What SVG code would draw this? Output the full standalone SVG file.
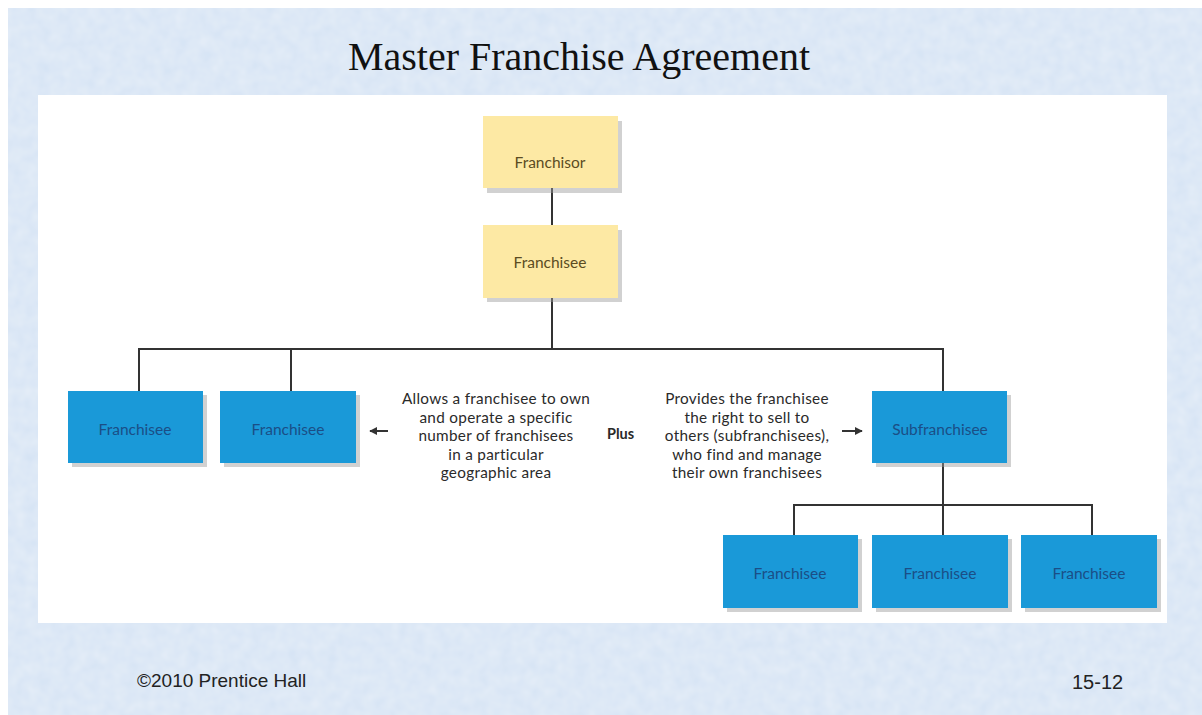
<svg xmlns="http://www.w3.org/2000/svg" width="1202" height="715" viewBox="0 0 1202 715">
<style>
.title{font-family:"Liberation Serif","Times New Roman",serif;font-size:40px;fill:#111;}
.foot{font-family:"Liberation Sans",Arial,sans-serif;font-size:19px;fill:#222;}
.yl{fill:#fde9a4;}
.bl{fill:#1a99d8;}
.sh{fill:#9a9a9a;opacity:0.45;}
.lt{font-family:Lato,"Noto Sans",sans-serif;font-size:15.5px;text-anchor:middle;}
.ty{fill:#5b4c22;}
.tb{fill:#1b4e86;}
.desc{font-family:Lato,"Noto Sans",sans-serif;font-size:15.3px;fill:#2a2a2a;text-anchor:middle;letter-spacing:0.3px;}
.plus{font-family:Lato,"Noto Sans",sans-serif;font-size:14.5px;font-weight:bold;fill:#2a2a2a;}
.ln{stroke:#333;stroke-width:2;fill:none;}
</style>
<defs>
<marker id="ah" viewBox="0 0 10 10" refX="9" refY="5" markerWidth="8" markerHeight="8" markerUnits="userSpaceOnUse" orient="auto">
<path d="M0,0 L10,5 L0,10 z" fill="#333"/>
</marker>
<filter id="tex" x="0" y="0" width="100%" height="100%">
<feTurbulence type="fractalNoise" baseFrequency="0.08" numOctaves="2" seed="3" result="n"/>
<feColorMatrix in="n" type="matrix" values="0 0 0 0 1  0 0 0 0 1  0 0 0 0 1  0 0 0 0.35 0" result="w"/>
<feComposite in="w" in2="SourceGraphic" operator="over"/>
</filter>
</defs>
<rect x="0" y="0" width="1202" height="715" fill="#ffffff"/>
<rect x="8" y="8" width="1194" height="707" fill="#d5e3f4" filter="url(#tex)"/>
<rect x="38" y="95" width="1129" height="528" fill="#ffffff"/>
<text class="title" x="579" y="70" text-anchor="middle">Master Franchise Agreement</text>

<g id="connectors">
<line class="ln" x1="552" y1="188" x2="552" y2="225"/>
<line class="ln" x1="552" y1="298" x2="552" y2="349"/>
<polyline class="ln" points="139,391 139,349 943,349 943,391"/>
<line class="ln" x1="291" y1="349" x2="291" y2="391"/>
<line class="ln" x1="943" y1="463" x2="943" y2="535"/>
<polyline class="ln" points="794,535 794,505 1092,505 1092,535"/>
<line class="ln" x1="388" y1="431" x2="370" y2="431" marker-end="url(#ah)"/>
<line class="ln" x1="842" y1="431" x2="862" y2="431" marker-end="url(#ah)"/>
</g>

<g id="franchisor">
<rect class="sh" x="487" y="121" width="135" height="72"/>
<rect class="yl" x="483" y="116" width="135" height="72"/>
<text class="lt ty" x="550" y="168">Franchisor</text>
</g>
<g id="franchisee-master">
<rect class="sh" x="487" y="230" width="135" height="72"/>
<rect class="yl" x="483" y="225" width="135" height="73"/>
<text class="lt ty" x="550" y="268">Franchisee</text>
</g>
<g id="franchisee-1">
<rect class="sh" x="72" y="395" width="135" height="72"/>
<rect class="bl" x="68" y="391" width="135" height="72"/>
<text class="lt tb" x="135" y="435">Franchisee</text>
</g>
<g id="franchisee-2">
<rect class="sh" x="224" y="395" width="136" height="72"/>
<rect class="bl" x="220" y="391" width="136" height="72"/>
<text class="lt tb" x="288" y="435">Franchisee</text>
</g>
<g id="subfranchisee">
<rect class="sh" x="876" y="395" width="135" height="72"/>
<rect class="bl" x="872" y="391" width="135" height="72"/>
<text class="lt tb" x="940" y="435">Subfranchisee</text>
</g>
<g id="franchisee-3">
<rect class="sh" x="727" y="539" width="135" height="73"/>
<rect class="bl" x="723" y="535" width="135" height="73"/>
<text class="lt tb" x="790" y="579">Franchisee</text>
</g>
<g id="franchisee-4">
<rect class="sh" x="876" y="539" width="136" height="73"/>
<rect class="bl" x="872" y="535" width="136" height="73"/>
<text class="lt tb" x="940" y="579">Franchisee</text>
</g>
<g id="franchisee-5">
<rect class="sh" x="1025" y="539" width="136" height="73"/>
<rect class="bl" x="1021" y="535" width="136" height="73"/>
<text class="lt tb" x="1089" y="579">Franchisee</text>
</g>

<g id="desc-left">
<text class="desc" x="496" y="404">Allows a franchisee to own</text>
<text class="desc" x="496" y="422.5">and operate a specific</text>
<text class="desc" x="496" y="441">number of franchisees</text>
<text class="desc" x="496" y="459.5">in a particular</text>
<text class="desc" x="496" y="478">geographic area</text>
</g>
<text class="plus" x="607" y="439">Plus</text>
<g id="desc-right">
<text class="desc" x="747" y="404">Provides the franchisee</text>
<text class="desc" x="747" y="422.5">the right to sell to</text>
<text class="desc" x="747" y="441">others (subfranchisees),</text>
<text class="desc" x="747" y="459.5">who find and manage</text>
<text class="desc" x="747" y="478">their own franchisees</text>
</g>

<text class="foot" x="137" y="687">©2010 Prentice Hall</text>
<text class="foot" x="1072" y="689" style="font-size:20px">15-12</text>
</svg>
